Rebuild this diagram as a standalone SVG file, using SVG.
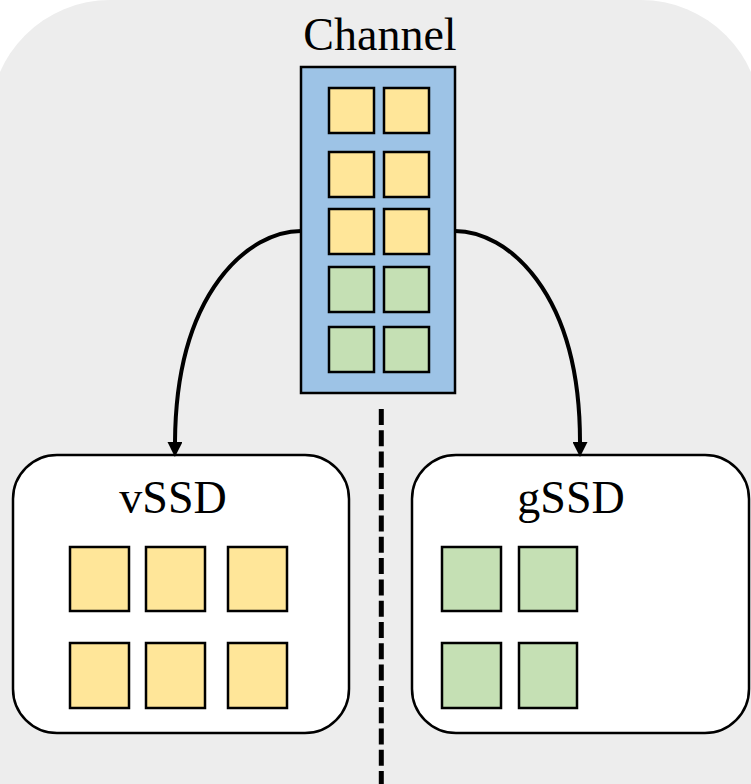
<svg xmlns="http://www.w3.org/2000/svg" width="751" height="784" viewBox="0 0 751 784">
<defs>
<style>
.lbl{font-family:"Liberation Serif","Times New Roman",serif;font-size:46px;fill:#000;text-anchor:middle}
.y{fill:#ffe699;stroke:#000;stroke-width:2.5}
.g{fill:#c5e0b4;stroke:#000;stroke-width:2.5}
.box{fill:#fff;stroke:#000;stroke-width:2.5}
.conn{fill:none;stroke:#000;stroke-width:4}
</style>
<marker id="ah" markerWidth="15" markerHeight="15" viewBox="0 0 15 15" refX="0" refY="7.5" orient="auto" markerUnits="userSpaceOnUse">
<path d="M0,0 L15,7.5 L0,15 Z" fill="#000"/>
</marker>
</defs>
<rect x="-10" y="0" width="771" height="860" rx="120" ry="120" fill="#ededed"/>
<g id="channel">
<text class="lbl" x="380" y="50">Channel</text>
<rect x="301" y="67" width="154" height="326" fill="#9dc3e6" stroke="#000" stroke-width="2.5"/>
<rect class="y" x="329" y="88" width="45" height="45"/>
<rect class="y" x="384" y="88" width="45" height="45"/>
<rect class="y" x="329" y="152" width="45" height="45"/>
<rect class="y" x="384" y="152" width="45" height="45"/>
<rect class="y" x="329" y="209" width="45" height="45"/>
<rect class="y" x="384" y="209" width="45" height="45"/>
<rect class="g" x="329" y="267" width="45" height="45"/>
<rect class="g" x="384" y="267" width="45" height="45"/>
<rect class="g" x="329" y="327" width="45" height="45"/>
<rect class="g" x="384" y="327" width="45" height="45"/>
</g>
<g id="vssd">
<rect class="box" x="13" y="455" width="336" height="278" rx="44" ry="44"/>
<text class="lbl" x="173" y="513">vSSD</text>
<rect class="y" x="70" y="547" width="59" height="64"/>
<rect class="y" x="146" y="547" width="59" height="64"/>
<rect class="y" x="228" y="547" width="59" height="64"/>
<rect class="y" x="70" y="643" width="59" height="65"/>
<rect class="y" x="146" y="643" width="59" height="65"/>
<rect class="y" x="228" y="643" width="59" height="65"/>
</g>
<g id="gssd">
<rect class="box" x="412" y="455" width="337" height="278" rx="44" ry="44"/>
<text class="lbl" x="571" y="513">gSSD</text>
<rect class="g" x="442" y="547" width="59" height="64"/>
<rect class="g" x="519" y="547" width="58" height="64"/>
<rect class="g" x="442" y="643" width="59" height="65"/>
<rect class="g" x="519" y="643" width="58" height="65"/>
</g>
<g id="connectors">
<path class="conn" d="M301,231 C250,231 176,290 175,442" marker-end="url(#ah)"/>
<path class="conn" d="M455,231 C506,231 580,290 580,442" marker-end="url(#ah)"/>
<line x1="381.3" y1="409" x2="381.3" y2="784" stroke="#000" stroke-width="5" stroke-dasharray="16 5.3"/>
</g>
</svg>
